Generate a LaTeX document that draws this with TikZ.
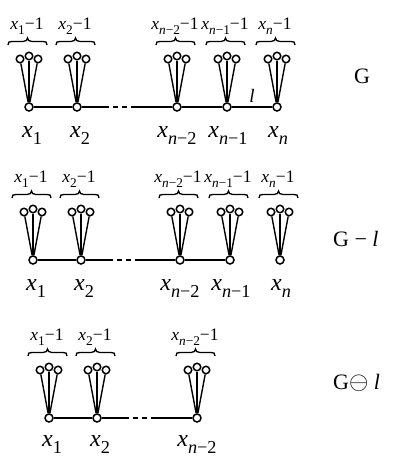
\documentclass[tikz,border=0pt]{standalone}
\usepackage{fontspec}
\setmainfont{Liberation Serif}

\newcommand{\xs}[1]{\textit{x}\raisebox{-0.3em}{\scalebox{0.76}{#1}}}
\newcommand{\nn}{\textit{n}}
% three leaves, brace and count above a vertex
\newcommand{\fanv}[2]{%
 \node[leaf] (#1l) at ([shift={(-9,-48)}]#1) {};
 \node[leaf] (#1m) at ([shift={(0,-51)}]#1) {};
 \node[leaf] (#1r) at ([shift={(9,-48)}]#1) {};
 \draw[stem] (#1)--(#1l);\draw[stem] (#1)--(#1m);\draw[stem] (#1)--(#1r);
 \draw[brc] ([shift={(-21,-62)}]#1.center) .. controls +(0,-3) and +(-3,0) .. ([shift={(-17,-65.5)}]#1.center)
   -- ([shift={(-6,-65.5)}]#1.center) .. controls +(3,0) and +(0,2) .. ([shift={(-1.5,-69)}]#1.center)
   .. controls +(0,2) and +(-3,0) .. ([shift={(3,-65.5)}]#1.center)
   -- ([shift={(14,-65.5)}]#1.center) .. controls +(3,0) and +(0,-3) .. ([shift={(18,-62)}]#1.center);
 \node[cnt] (#1c) at ([shift={(-2,-78)}]#1) {#2};}

\begin{document}
\begin{tikzpicture}[x=1pt,y=-1pt,
 vtx/.style={circle,draw,line width=1.5pt,fill=white,inner sep=0pt,minimum size=8pt},
 leaf/.style={vtx,minimum size=7.5pt},
 edge/.style={line width=1.5pt},
 stem/.style={line width=1.4pt},
 gap/.style={dash pattern=on 27pt off 4pt on 5pt off 4pt on 5pt off 4pt on 80pt},
 brc/.style={line width=1.3pt},
 cnt/.style={font=\fontsize{17.5}{17.5}\selectfont,anchor=base,inner sep=0pt},
 vlab/.style={font=\fontsize{24}{24}\selectfont,anchor=base,inner sep=0pt},
 gname/.style={font=\fontsize{22}{22}\selectfont,inner sep=0pt}]
\useasboundingbox (0,0) rectangle (396,456);

% G
\node[vtx] (a1) at (29,107) {};
\node[vtx] (a2) at (77,107) {};
\node[vtx] (a3) at (177,107) {};
\node[vtx] (a4) at (227,107) {};
\node[vtx] (a5) at (277,107) {};
\fanv{a1}{\xs{1}−1}\fanv{a2}{\xs{2}−1}\fanv{a3}{\xs{\nn−2}−1}
\fanv{a4}{\xs{\nn−1}−1}\fanv{a5}{\xs{\nn}−1}
\draw[edge] (a1)--(a2);
\draw[edge,gap] (a2)--(a3);
\draw[edge] (a3)--(a4);
\draw[edge] (a4)-- node[gname,above=4pt,font=\fontsize{19}{19}\selectfont] (el) {\textit{l}} (a5);
\node[vlab] (a1t) at ([shift={(3,30)}]a1) {\xs{1}};
\node[vlab] (a2t) at ([shift={(3,30)}]a2) {\xs{2}};
\node[vlab] (a3t) at ([shift={(0,30)}]a3) {\xs{\nn−2}};
\node[vlab] (a4t) at ([shift={(1,30)}]a4) {\xs{\nn−1}};
\node[vlab] (a5t) at ([shift={(1,30)}]a5) {\xs{\nn}};
\node[gname] (g1) at (362,76) {G};

% G - l
\node[vtx] (b1) at (33,260) {};
\node[vtx] (b2) at (81,260) {};
\node[vtx] (b3) at (180,260) {};
\node[vtx] (b4) at (230,260) {};
\node[vtx] (b5) at (280,260) {};
\fanv{b1}{\xs{1}−1}\fanv{b2}{\xs{2}−1}\fanv{b3}{\xs{\nn−2}−1}
\fanv{b4}{\xs{\nn−1}−1}\fanv{b5}{\xs{\nn}−1}
\draw[edge] (b1)--(b2);
\draw[edge,gap] (b2)--(b3);
\draw[edge] (b3)--(b4);
\node[vlab] (b1t) at ([shift={(3,30)}]b1) {\xs{1}};
\node[vlab] (b2t) at ([shift={(3,30)}]b2) {\xs{2}};
\node[vlab] (b3t) at ([shift={(0,30)}]b3) {\xs{\nn−2}};
\node[vlab] (b4t) at ([shift={(1,30)}]b4) {\xs{\nn−1}};
\node[vlab] (b5t) at ([shift={(1,30)}]b5) {\xs{\nn}};
\node[gname,anchor=west] (g2) at (333,239) {G − \textit{l}};

% G (-) l
\node[vtx] (c1) at (49,418) {};
\node[vtx] (c2) at (97,418) {};
\node[vtx] (c3) at (197,418) {};
\fanv{c1}{\xs{1}−1}\fanv{c2}{\xs{2}−1}\fanv{c3}{\xs{\nn−2}−1}
\draw[edge] (c1)--(c2);
\draw[edge,gap] (c2)--(c3);
\node[vlab] (c1t) at ([shift={(3,28)}]c1) {\xs{1}};
\node[vlab] (c2t) at ([shift={(3,28)}]c2) {\xs{2}};
\node[vlab] (c3t) at ([shift={(0,28)}]c3) {\xs{\nn−2}};
\node[gname,anchor=west] (g3) at (333,383) {G\raisebox{0.02em}{\scalebox{1.2}{$\ominus$}} \textit{l}};
\end{tikzpicture}
\end{document}
